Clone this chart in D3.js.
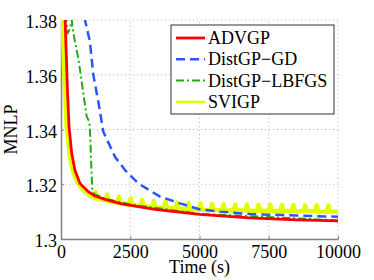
<!DOCTYPE html>
<html lang="en">
<head>
  <meta charset="UTF-8" />
  <title>MNLP vs time</title>
  <script src="https://d3js.org/d3.v7.min.js"></script>
  <style>
    body { margin: 0; background: #fff; }
    .grid line { stroke: #b8b8b8; stroke-dasharray: 1,3; }
    .axis path, .axis line { stroke: #808080; }
    .axis text { fill: #000; }
  </style>
</head>
<body>
  <svg width="374" height="280"></svg>

  <script>
    // Tick values
    const xTicks = [0, 2500, 5000, 7500, 10000];
    const yTicks = [1.30, 1.32, 1.34, 1.36, 1.38];

    // Series: [time (s), MNLP]
    const advgp = [
      [80, 1.392], [150, 1.380], [230, 1.355], [290, 1.341], [385, 1.3314],
      [505, 1.3250], [686, 1.3203], [986, 1.3173], [1227, 1.3157], [1590, 1.3145],
      [2190, 1.3128], [3390, 1.3108], [5000, 1.3090], [6800, 1.3077],
      [8500, 1.3070], [10000, 1.3066]
    ];

    const distgpGD = [
      [780, 1.386], [866, 1.380], [1047, 1.372], [1166, 1.3600], [1347, 1.3502],
      [1527, 1.3392], [1949, 1.3300], [2310, 1.3252], [2790, 1.3203],
      [3274, 1.3173], [3574, 1.3155], [4296, 1.3130], [5018, 1.3108],
      [5740, 1.3100], [6823, 1.3091], [8500, 1.3086], [10000, 1.3081]
    ];

    const distgpLBFGS = [
      [120, 1.388], [190, 1.380], [242, 1.3751], [325, 1.3770], [386, 1.3800],
      [430, 1.3765], [505, 1.3720], [625, 1.3660], [747, 1.3575], [866, 1.3490],
      [928, 1.3447], [990, 1.3435], [1036, 1.3416], [1060, 1.3360], [1100, 1.3250],
      [1130, 1.3179], [1202, 1.3164], [1600, 1.3147], [2500, 1.3126],
      [5000, 1.3092], [10000, 1.3068]
    ];

    const svigp = [
      [0, 1.400], [120, 1.360], [205, 1.341], [325, 1.3300], [445, 1.3245],
      [600, 1.3205], [800, 1.3180], [1000, 1.3162],
      [1200, 1.3150], [1250, 1.3172], [1300, 1.3148],
      [1620, 1.3141], [1670, 1.3162], [1720, 1.3139],
      [2040, 1.3132], [2090, 1.3154], [2140, 1.3131],
      [2460, 1.3126], [2510, 1.3148], [2560, 1.3125],
      [2880, 1.3121], [2930, 1.3143], [2980, 1.3120],
      [3300, 1.3117], [3350, 1.3139], [3400, 1.3116],
      [3720, 1.3114], [3770, 1.3136], [3820, 1.3113],
      [4140, 1.3111], [4190, 1.3133], [4240, 1.3111],
      [4560, 1.3109], [4610, 1.3131], [4660, 1.3109],
      [4980, 1.3108], [5030, 1.3130], [5080, 1.3107],
      [5400, 1.3106], [5450, 1.3128], [5500, 1.3106],
      [5820, 1.3105], [5870, 1.3127], [5920, 1.3105],
      [6240, 1.3104], [6290, 1.3126], [6340, 1.3104],
      [6660, 1.3104], [6710, 1.3126], [6760, 1.3103],
      [7080, 1.3103], [7130, 1.3125], [7180, 1.3103],
      [7500, 1.3103], [7550, 1.3125], [7600, 1.3102],
      [7920, 1.3102], [7970, 1.3124], [8020, 1.3102],
      [8340, 1.3102], [8390, 1.3124], [8440, 1.3101],
      [8760, 1.3101], [8810, 1.3123], [8860, 1.3101],
      [9180, 1.3101], [9230, 1.3123], [9280, 1.3100],
      [9600, 1.3100], [9650, 1.3122], [9700, 1.3100],
      [10000, 1.3100]
    ];

    const svg = d3.select("svg");
    const margin = { top: 20, right: 36, bottom: 41, left: 61 };
    const width = 374, height = 280;
    const serif = "Liberation Serif";

    const x = d3.scaleLinear().domain([0, 10000]).range([margin.left, width - margin.right]);
    const y = d3.scaleLinear().domain([1.30, 1.38]).range([height - margin.bottom, margin.top]);

    svg.append("clipPath").attr("id", "plot")
      .append("rect")
      .attr("x", x(0)).attr("y", y(1.38))
      .attr("width", x(10000) - x(0)).attr("height", y(1.30) - y(1.38));

    // Grid
    const grid = svg.append("g").attr("class", "grid");
    grid.selectAll(".gx").data(xTicks.slice(1)).join("line")
      .attr("x1", d => x(d)).attr("x2", d => x(d))
      .attr("y1", y(1.30)).attr("y2", y(1.38));
    grid.selectAll(".gy").data(yTicks.slice(1)).join("line")
      .attr("x1", x(0)).attr("x2", x(10000))
      .attr("y1", d => y(d)).attr("y2", d => y(d));

    // Axes
    svg.append("g")
      .attr("class", "axis")
      .attr("transform", `translate(0,${y(1.30)})`)
      .call(d3.axisBottom(x).tickValues(xTicks).tickFormat(d3.format("d"))
        .tickSizeInner(-3).tickSizeOuter(0).tickPadding(6));

    svg.append("g")
      .attr("class", "axis y-axis")
      .attr("transform", `translate(${x(0)},0)`)
      .call(d3.axisLeft(y).tickValues(yTicks).tickFormat(d => d3.format(".2f")(d).replace(/0$/, ""))
        .tickSizeInner(-3).tickSizeOuter(0).tickPadding(4));

    svg.selectAll(".axis").attr("font-family", serif).attr("font-size", 18);
    svg.selectAll(".y-axis text").attr("dy", "0.42em");
    svg.selectAll(".axis .domain").attr("stroke-width", 1.5);

    // Lines
    const line = d3.line().x(d => x(d[0])).y(d => y(d[1]));
    const plot = svg.append("g").attr("clip-path", "url(#plot)");

    const series = [
      { data: svigp, color: "#e2ff00", width: 4.5, dash: null },
      { data: distgpLBFGS, color: "#22aa11", width: 2, dash: "8,3,2,3" },
      { data: distgpGD, color: "#2e55ff", width: 2.5, dash: "9,5" },
      { data: advgp, color: "#ff0000", width: 2.8, dash: null }
    ];

    series.forEach(s => {
      plot.append("path")
        .datum(s.data)
        .attr("fill", "none")
        .attr("stroke", s.color)
        .attr("stroke-width", s.width)
        .attr("stroke-dasharray", s.dash)
        .attr("stroke-linejoin", "round")
        .attr("d", line);
    });

    // Axis labels
    svg.append("text")
      .attr("x", (x(0) + x(10000)) / 2).attr("y", 272.5)
      .attr("text-anchor", "middle").attr("font-size", 18).attr("font-family", serif)
      .text("Time (s)");

    svg.append("text")
      .attr("transform", `translate(17,${(y(1.30) + y(1.38)) / 2}) rotate(-90)`)
      .attr("text-anchor", "middle").attr("font-size", 18).attr("font-family", serif)
      .text("MNLP");

    // Legend
    const legendItems = [
      { name: "ADVGP", color: "#ff0000", width: 2.8, dash: null },
      { name: "DistGP\u2212GD", color: "#2e55ff", width: 2.5, dash: "9,5" },
      { name: "DistGP\u2212LBFGS", color: "#22aa11", width: 2, dash: "8,3,2,3" },
      { name: "SVIGP", color: "#e2ff00", width: 2.5, dash: null }
    ];

    const legend = svg.append("g").attr("transform", "translate(171,25)");
    legend.append("rect")
      .attr("width", 163).attr("height", 89)
      .attr("fill", "#fff").attr("stroke", "#333").attr("stroke-width", 1);

    const row = legend.selectAll(".row").data(legendItems).join("g")
      .attr("transform", (d, i) => `translate(0,${13 + i * 21.3})`);
    row.append("line")
      .attr("x1", 5).attr("x2", 34)
      .attr("stroke", d => d.color).attr("stroke-width", d => d.width)
      .attr("stroke-dasharray", d => d.dash);
    row.append("text")
      .attr("x", 37).attr("y", 6).attr("font-size", 18).attr("font-family", serif)
      .text(d => d.name);
  </script>
</body>
</html>
